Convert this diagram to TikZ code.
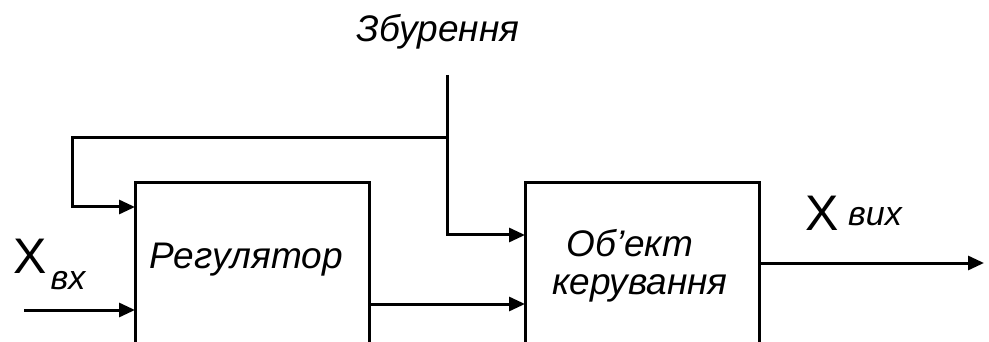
\documentclass[tikz,border=0pt]{standalone}
\usepackage{fontspec}
\setmainfont{Liberation Sans}
\usetikzlibrary{arrows.meta}
\tikzset{
  blockbox/.style={draw, line width=3pt, minimum width=234pt, minimum height=180pt, outer sep=0pt, inner sep=0pt},
  lbl/.style={font=\fontsize{37}{40}\selectfont\itshape, inner sep=0pt},
  bigx/.style={font=\fontsize{50}{52}\selectfont, inner sep=0pt},
  sub/.style={font=\fontsize{34}{36}\selectfont\itshape, inner sep=0pt},
  conn/.style={line width=3pt, -{Triangle[length=16pt,width=14pt]}},
  plain/.style={line width=3pt}
}
\begin{document}
\begin{tikzpicture}[x=1pt, y=-1pt]
\useasboundingbox (0,0) rectangle (989,342);
\clip (0,0) rectangle (989,342);
% blocks
\node[blockbox] (reg) at (252,273) {};
\node[blockbox] (obj) at (642,273) {};
% texts
\node[lbl] (regtxt) at (246,260) {Регулятор};
\node[lbl] (objtxt1) at (630,243) {Об'ект};
\node[lbl] (objtxt2) at (640,288) {керування};
\node[lbl] (dist) at (438,32) {Збурення};
\node[bigx] (xin) at (30,256) {X};
\node[sub] (xinsub) at (68,281) {вх};
\node[bigx] (xout) at (822,213) {X};
\node[sub] (xoutsub) at (875,217) {вих};
% coordinates
\coordinate (dtop) at (447,75);
\coordinate (j) at (447,138);
\coordinate (fl) at (72,138);
\coordinate (fb) at (0,207);
\coordinate (d2) at (0,235);
\coordinate (inl) at (24,310);
\coordinate (u) at (0,304);
\coordinate (yy) at (0,263);
\coordinate (yend) at (984,263);
% connectors
\draw[conn] (dtop) |- (obj.west |- d2);
\draw[conn] (j) -- (fl) |- (reg.west |- fb);
\draw[conn] (inl) -- (reg.west |- inl);
\draw[conn] (reg.east |- u) -- (obj.west |- u);
\draw[conn] (obj.east |- yy) -- (yend);
\end{tikzpicture}
\end{document}
